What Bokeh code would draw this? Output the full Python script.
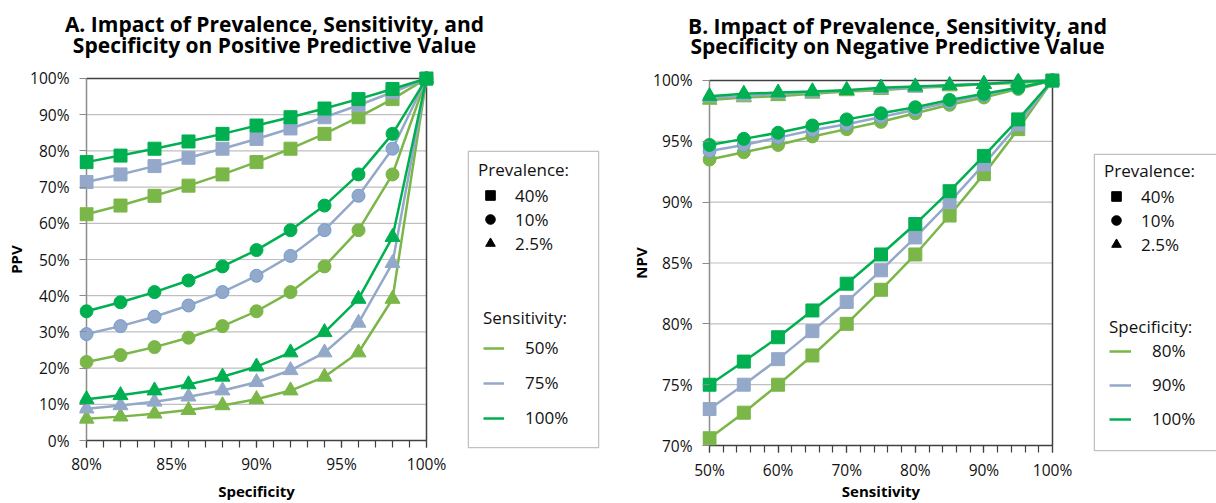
import math
from bokeh.plotting import figure
from bokeh.models import (Range1d, Label, Legend, LegendItem, BoxAnnotation,
                          FixedTicker, PrintfTickFormatter)
from bokeh.layouts import row, column
from bokeh.embed import file_html
from bokeh.resources import INLINE

# ---------------- data (in %) ----------------
specificity = [80, 82, 84, 86, 88, 90, 92, 94, 96, 98, 100]
ppv_prev40_sens50 = [62.5, 64.9, 67.6, 70.4, 73.5, 76.9, 80.6, 84.7, 89.3, 94.3, 100]
ppv_prev40_sens75 = [71.4, 73.5, 75.8, 78.1, 80.6, 83.3, 86.2, 89.3, 92.6, 96.2, 100]
ppv_prev40_sens100 = [76.9, 78.7, 80.6, 82.6, 84.7, 87.0, 89.3, 91.7, 94.3, 97.1, 100]
ppv_prev10_sens50 = [21.7, 23.6, 25.8, 28.4, 31.6, 35.7, 41.0, 48.1, 58.1, 73.5, 100]
ppv_prev10_sens75 = [29.4, 31.6, 34.2, 37.3, 41.0, 45.5, 51.0, 58.1, 67.6, 80.6, 100]
ppv_prev10_sens100 = [35.7, 38.2, 41.0, 44.2, 48.1, 52.6, 58.1, 64.9, 73.5, 84.7, 100]
ppv_prev25_sens50 = [6.0, 6.6, 7.4, 8.4, 9.7, 11.4, 13.8, 17.6, 24.3, 39.1, 100]
ppv_prev25_sens75 = [8.8, 9.7, 10.7, 12.1, 13.8, 16.1, 19.4, 24.3, 32.5, 49.0, 100]
ppv_prev25_sens100 = [11.4, 12.5, 13.8, 15.5, 17.6, 20.4, 24.3, 29.9, 39.1, 56.2, 100]

sensitivity = [50, 55, 60, 65, 70, 75, 80, 85, 90, 95, 100]
npv_prev40_spec80 = [70.6, 72.7, 75.0, 77.4, 80.0, 82.8, 85.7, 88.9, 92.3, 96.0, 100]
npv_prev40_spec90 = [73.0, 75.0, 77.1, 79.4, 81.8, 84.4, 87.1, 90.0, 93.1, 96.4, 100]
npv_prev40_spec100 = [75.0, 76.9, 78.9, 81.1, 83.3, 85.7, 88.2, 90.9, 93.8, 96.8, 100]
npv_prev10_spec80 = [93.5, 94.1, 94.7, 95.4, 96.0, 96.6, 97.3, 98.0, 98.6, 99.3, 100]
npv_prev10_spec90 = [94.2, 94.7, 95.3, 95.9, 96.4, 97.0, 97.6, 98.2, 98.8, 99.4, 100]
npv_prev10_spec100 = [94.7, 95.2, 95.7, 96.3, 96.8, 97.3, 97.8, 98.4, 98.9, 99.4, 100]
npv_prev25_spec80 = [98.4, 98.6, 98.7, 98.9, 99.1, 99.2, 99.4, 99.5, 99.7, 99.8, 100]
npv_prev25_spec90 = [98.6, 98.7, 98.9, 99.0, 99.2, 99.3, 99.4, 99.6, 99.7, 99.9, 100]
npv_prev25_spec100 = [98.7, 98.9, 99.0, 99.1, 99.2, 99.4, 99.5, 99.6, 99.7, 99.9, 100]

prevalence_labels = ["40%", "10%", "2.5%"]
ppv_sens_labels = ["50%", "75%", "100%"]
npv_spec_labels = ["80%", "90%", "100%"]

ppv_x_ticks = [80, 85, 90, 95, 100]
ppv_x_minor = list(range(80, 101, 1))
ppv_y_ticks = [0, 10, 20, 30, 40, 50, 60, 70, 80, 90, 100]
npv_x_ticks = [50, 60, 70, 80, 90, 100]
npv_x_minor = list(range(50, 101, 2))
npv_y_ticks = [70, 75, 80, 85, 90, 95, 100]

ppv_series = [
    [ppv_prev40_sens50, ppv_prev10_sens50, ppv_prev25_sens50],
    [ppv_prev40_sens75, ppv_prev10_sens75, ppv_prev25_sens75],
    [ppv_prev40_sens100, ppv_prev10_sens100, ppv_prev25_sens100],
]
npv_series = [
    [npv_prev40_spec80, npv_prev10_spec80, npv_prev25_spec80],
    [npv_prev40_spec90, npv_prev10_spec90, npv_prev25_spec90],
    [npv_prev40_spec100, npv_prev10_spec100, npv_prev25_spec100],
]

# ---------------- style ----------------
FONT = "Open Sans"
COLORS = ["#7AB648", "#94A9C9", "#00B050"]
EDGE = {(1, 1): "#6B9FD6"}
MARKERS = ["square", "circle", "triangle"]
SIZES = [13, 13, 15]
DARK = "#404040"
AXGRAY = "#8C8C8C"
GRID = "#BFBFBF"
TITLE_H = 62
ROW_H = 503 - TITLE_H
TITLE_SHIFT = 7
M = 7          # frame room around the data area so edge markers are not clipped
NAN = float("nan")


def bare(width, height, **borders):
    p = figure(width=width, height=height, output_backend="svg", toolbar_location=None,
               x_axis_location=None, y_axis_location=None,
               x_range=Range1d(0, 1), y_range=Range1d(0, 1), **borders)
    p.outline_line_color = None
    p.grid.visible = False
    return p


def title_fig(left, width, lines, positions):
    p = bare(width, TITLE_H, min_border=0)
    for text, (X, Y) in zip(lines, positions):
        p.add_layout(Label(x=X - left, y=TITLE_H - Y + TITLE_SHIFT,
                           x_units="screen", y_units="screen",
                           text=text, text_font=FONT, text_font_size="21px",
                           text_font_style="bold", text_align="center",
                           text_baseline="alphabetic", text_color="#000000"))
    return p


def plot_fig(cfg):
    xlo, xhi = cfg["xlim"]
    ylo, yhi = cfg["ylim"]
    px_lo, px_hi = cfg["px"]
    py_lo, py_hi = cfg["py"]
    kx = (px_hi - px_lo) / (xhi - xlo)
    ky = (py_lo - py_hi) / (yhi - ylo)
    fl, fr = px_lo - M, px_hi + M
    ft, fb = py_hi - M, py_lo + M
    cl, w = cfg["canvas_left"], cfg["width"]
    p = figure(width=w, height=ROW_H, output_backend="svg", toolbar_location=None,
               x_range=Range1d(xlo - M / kx, xhi + M / kx),
               y_range=Range1d(ylo - M / ky, yhi + M / ky),
               min_border_left=fl - cl, min_border_right=cl + w - fr,
               min_border_top=ft - TITLE_H, min_border_bottom=503 - fb)
    p.outline_line_color = None
    p.xgrid.visible = False
    p.ygrid.visible = False

    # gridlines, axis lines and the plot-area border, drawn on the data scales
    inner = [t for t in cfg["yticks"] if ylo < t < yhi]
    p.segment(x0=[xlo] * len(inner), x1=[xhi] * len(inner), y0=inner, y1=inner,
              line_color=GRID, line_width=1.2)
    p.segment(x0=[xlo], x1=[xlo], y0=[ylo], y1=[yhi], line_color=AXGRAY, line_width=1.5)
    p.segment(x0=[xlo, xlo, xhi], x1=[xhi, xhi, xhi], y0=[ylo, yhi, ylo], y1=[ylo, yhi, yhi],
              line_color=DARK, line_width=1.5)

    xa, ya = p.xaxis[0], p.yaxis[0]
    xa.ticker = FixedTicker(ticks=cfg["xticks"], minor_ticks=cfg["xminor"])
    ya.ticker = FixedTicker(ticks=cfg["yticks"], minor_ticks=[])
    for a in (xa, ya):
        a.formatter = PrintfTickFormatter(format="%d%%")
        a.axis_line_color = None
        a.major_label_text_font = FONT
        a.major_label_text_font_size = "15.5px"
        a.major_label_text_color = "#111111"
        a.major_tick_in = M
        a.minor_tick_in = M
        a.major_tick_out = 0
        a.minor_tick_out = 0
        a.axis_label_text_font = FONT
        a.axis_label_text_font_size = "15px"
        a.axis_label_text_font_style = "bold"
        a.axis_label_text_color = "#000000"
    xa.axis_label = cfg["xlabel"]
    ya.axis_label = cfg["ylabel"]
    xa.major_tick_line_color = DARK
    xa.minor_tick_line_color = DARK
    xa.major_tick_line_width = 1.2
    xa.minor_tick_line_width = 1.2
    xa.major_label_standoff = cfg["xtick_standoff"]
    xa.axis_label_standoff = cfg["xlab_standoff"]
    ya.major_tick_line_color = AXGRAY
    ya.major_tick_line_width = 1.2
    ya.minor_tick_line_color = None
    ya.major_label_standoff = 10
    ya.axis_label_standoff = cfg["ylab_standoff"]

    xs = cfg["x"]
    for ci, group in enumerate(cfg["series"]):
        for pi, vals in enumerate(group):
            p.line(xs, vals, line_color=COLORS[ci], line_width=2.5)
            p.scatter(xs, vals, marker=MARKERS[pi], size=SIZES[pi],
                      fill_color=COLORS[ci], line_color=EDGE.get((ci, pi), COLORS[ci]),
                      line_width=1)
    return p


def legend_fig(cfg):
    bl, bt, br, bb = cfg["box"]
    cl, w = cfg["canvas_left"], cfg["width"]
    fr = min(br, cl + w)
    p = bare(w, ROW_H, min_border_left=bl - cl, min_border_right=cl + w - fr,
             min_border_top=bt - TITLE_H, min_border_bottom=503 - bb)
    fw, fh = fr - bl, bb - bt
    p.x_range = Range1d(0, fw)
    p.y_range = Range1d(0, fh)
    p.add_layout(BoxAnnotation(left=0.75, right=(br - bl) - 0.75, bottom=0.75, top=fh - 0.75,
                               fill_color=None, fill_alpha=0, line_color="#333333",
                               line_width=1.5))
    common = dict(border_line_color=None, background_fill_alpha=0, padding=0, margin=0,
                  label_text_font=FONT, label_text_font_size="17px",
                  title_text_font=FONT, title_text_font_size="17px",
                  title_text_font_style="normal", label_text_color="#111111",
                  title_text_color="#111111")
    marker_items = []
    for pi, lab in enumerate(prevalence_labels):
        r = p.scatter([NAN], [NAN], marker=MARKERS[pi], size=10, color="black")
        marker_items.append(LegendItem(label=lab, renderers=[r]))
    X, Y = cfg["leg1_pos"]
    p.add_layout(Legend(items=marker_items, title="Prevalence:", location=(X - bl, bb - Y),
                        glyph_width=24, glyph_height=24, label_height=24, spacing=0,
                        label_standoff=13, title_standoff=2, **common))
    line_items = []
    for ci, lab in enumerate(cfg["line_labels"]):
        r = p.line([NAN], [NAN], line_color=COLORS[ci], line_width=2.5)
        line_items.append(LegendItem(label=lab, renderers=[r]))
    X, Y = cfg["leg2_pos"]
    p.add_layout(Legend(items=line_items, title=cfg["line_title"], location=(X - bl, bb - Y),
                        glyph_width=cfg["line_glyph_w"], glyph_height=20, label_height=20,
                        spacing=cfg["leg2_spacing"], label_standoff=21,
                        title_standoff=cfg["leg2_standoff"], **common))
    return p


titleA = title_fig(0, 608, ["A. Impact of Prevalence, Sensitivity, and",
                            "Specificity on Positive Predictive Value"],
                   [(274, 30), (274, 51)])
titleB = title_fig(608, 608, ["B. Impact of Prevalence, Sensitivity, and",
                              "Specificity on Negative Predictive Value"],
                   [(897, 32), (897, 52)])

plotA = plot_fig(dict(canvas_left=0, width=462, xlim=(80, 100), ylim=(0, 100),
                      px=(86, 426), py=(441, 78), x=specificity, series=ppv_series,
                      xticks=ppv_x_ticks, xminor=ppv_x_minor, yticks=ppv_y_ticks,
                      xlabel="Specificity", ylabel="PPV",
                      xtick_standoff=5, xlab_standoff=3, ylab_standoff=1))
legA = legend_fig(dict(canvas_left=462, width=144, box=(467, 150, 599, 448),
                       leg1_pos=(478, 255), leg2_pos=(483, 429),
                       line_title="Sensitivity:", line_labels=ppv_sens_labels,
                       line_glyph_w=21, leg2_spacing=12, leg2_standoff=7))
plotB = plot_fig(dict(canvas_left=606, width=482, xlim=(50, 100), ylim=(70, 100),
                      px=(709, 1052), py=(448, 80), x=sensitivity, series=npv_series,
                      xticks=npv_x_ticks, xminor=npv_x_minor, yticks=npv_y_ticks,
                      xlabel="Sensitivity", ylabel="NPV",
                      xtick_standoff=6, xlab_standoff=-3, ylab_standoff=-1))
legB = legend_fig(dict(canvas_left=1088, width=128, box=(1093, 153, 1230, 451),
                       leg1_pos=(1104, 256), leg2_pos=(1109, 430),
                       line_title="Specificity:", line_labels=npv_spec_labels,
                       line_glyph_w=22, leg2_spacing=11, leg2_standoff=1))

# each figure in its own column so that their frames are not aligned with each other
layout = column(row(titleA, titleB),
                row(column(plotA), column(legA), column(plotB), column(legB)))
open("out.html", "w").write(file_html(layout, INLINE))
